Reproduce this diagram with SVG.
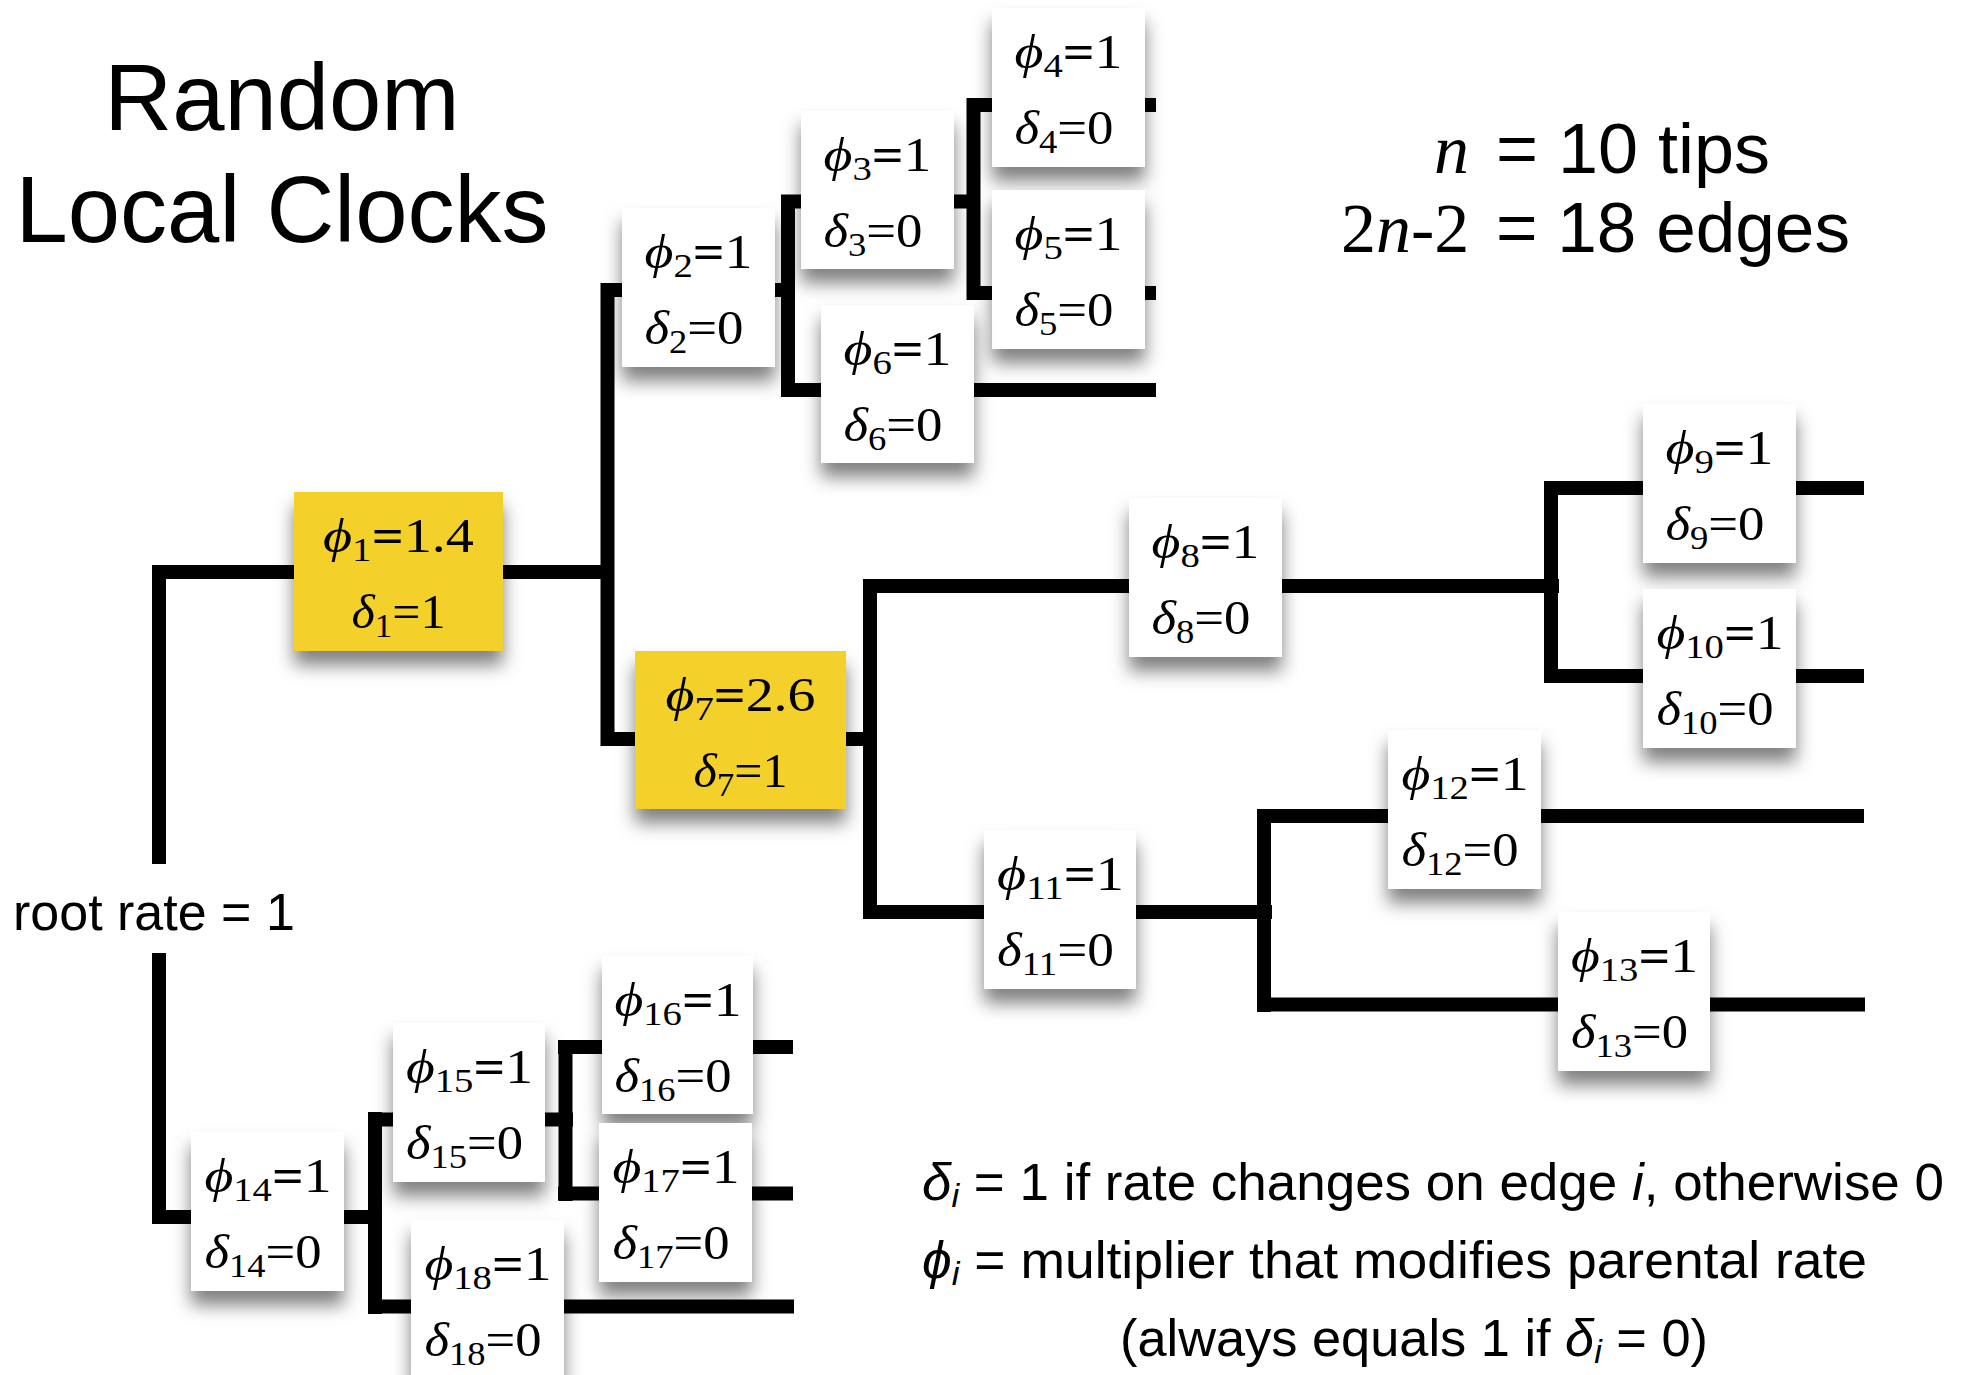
<svg xmlns="http://www.w3.org/2000/svg" width="1969" height="1375" viewBox="0 0 1969 1375">
  <style>
    .sans { font-family: "Liberation Sans", Arial, Helvetica, sans-serif; fill: #000; }
    .serif { font-family: "Liberation Serif", "DejaVu Serif", "Times New Roman", serif; fill: #000; }
    .lab { font-family: "Liberation Serif", "DejaVu Serif", "Times New Roman", serif; font-size: 49px; fill: #000; }
    .it { font-style: italic; }
    .sub { font-size: 34px; }
    .b { font-weight: bold; }
    .box { fill: #ffffff; filter: url(#shadow); }
    .hot { fill: #F4D12C; filter: url(#shadow); }
    .edge { stroke: #000; stroke-width: 14; fill: none; stroke-linecap: butt; }
  </style>
  <defs>
    <filter id="shadow" x="-30%" y="-30%" width="160%" height="180%">
      <feDropShadow dx="0" dy="14" stdDeviation="9" flood-color="#000" flood-opacity="0.5"/>
    </filter>
  </defs>

  <rect width="1969" height="1375" fill="#ffffff"/>

  <!-- title and summary text -->
  <g id="title">
    <text class="sans" x="282" y="130" font-size="94" text-anchor="middle">Random</text>
    <text class="sans" x="282" y="242" font-size="94" text-anchor="middle">Local Clocks</text>
  </g>
  <g id="counts">
    <text class="serif it" x="1434" y="173" font-size="70">n</text>
    <text class="sans" x="1496" y="173" font-size="70" textLength="274" lengthAdjust="spacingAndGlyphs">= 10 tips</text>
    <text class="serif" x="1341" y="252" font-size="70">2<tspan class="it">n</tspan>-2</text>
    <text class="sans" x="1496" y="252" font-size="70" textLength="354" lengthAdjust="spacingAndGlyphs">= 18 edges</text>
  </g>
  <text id="root-label" class="sans" x="13" y="930" font-size="52">root rate = 1</text>

  <!-- branches of the tree -->
  <g id="tree" class="edge">
    <line x1="159" y1="565" x2="159" y2="864"/>
    <line x1="159" y1="953" x2="159" y2="1224"/>
    <line x1="152" y1="572" x2="614" y2="572"/>
    <line x1="607.5" y1="283" x2="607.5" y2="746"/>
    <line x1="601" y1="290" x2="795" y2="290"/>
    <line x1="788" y1="195" x2="788" y2="397"/>
    <line x1="781" y1="201.5" x2="980" y2="201.5"/>
    <line x1="973.5" y1="98" x2="973.5" y2="300"/>
    <line x1="967" y1="105" x2="1156" y2="105"/>
    <line x1="967" y1="293" x2="1156" y2="293"/>
    <line x1="781" y1="390" x2="1156" y2="390"/>
    <line x1="601" y1="739" x2="877" y2="739"/>
    <line x1="870" y1="579" x2="870" y2="919"/>
    <line x1="863" y1="586" x2="1559" y2="586"/>
    <line x1="1551" y1="481" x2="1551" y2="683"/>
    <line x1="1544" y1="488" x2="1864" y2="488"/>
    <line x1="1544" y1="676" x2="1864" y2="676"/>
    <line x1="863" y1="912" x2="1272" y2="912"/>
    <line x1="1264" y1="809" x2="1264" y2="1012"/>
    <line x1="1257" y1="816" x2="1864" y2="816"/>
    <line x1="1257" y1="1004.5" x2="1865" y2="1004.5"/>
    <line x1="152" y1="1217" x2="382" y2="1217"/>
    <line x1="375" y1="1112" x2="375" y2="1314"/>
    <line x1="368" y1="1119.5" x2="573" y2="1119.5"/>
    <line x1="565.5" y1="1040" x2="565.5" y2="1201"/>
    <line x1="558" y1="1047" x2="793" y2="1047"/>
    <line x1="558" y1="1193.5" x2="793" y2="1193.5"/>
    <line x1="368" y1="1306.5" x2="794" y2="1306.5"/>
  </g>

  <!-- edge labels: rate multiplier and change indicator -->
  <g id="e1">
    <rect class="hot" x="294" y="492" width="209" height="159"/>
    <text class="lab" x="398.5" y="552" text-anchor="middle" textLength="151" lengthAdjust="spacingAndGlyphs"><tspan class="it">ϕ</tspan><tspan class="sub" dy="9">1</tspan><tspan class="b" dy="-9">=</tspan>1.4</text>
    <text class="lab" x="398.5" y="628" text-anchor="middle" textLength="94" lengthAdjust="spacingAndGlyphs"><tspan class="it">δ</tspan><tspan class="sub" dy="9">1</tspan><tspan dy="-9">=1</tspan></text>
  </g>
  <g id="e2">
    <rect class="box" x="622" y="208" width="153" height="159"/>
    <text class="lab" x="644.5" y="268" textLength="108" lengthAdjust="spacingAndGlyphs"><tspan class="it">ϕ</tspan><tspan class="sub" dy="9">2</tspan><tspan class="b" dy="-9">=</tspan>1</text>
    <text class="lab" x="644.5" y="344" textLength="99" lengthAdjust="spacingAndGlyphs"><tspan class="it">δ</tspan><tspan class="sub" dy="9">2</tspan><tspan dy="-9">=0</tspan></text>
  </g>
  <g id="e3">
    <rect class="box" x="801" y="111" width="153" height="158"/>
    <text class="lab" x="823.5" y="171" textLength="108" lengthAdjust="spacingAndGlyphs"><tspan class="it">ϕ</tspan><tspan class="sub" dy="9">3</tspan><tspan class="b" dy="-9">=</tspan>1</text>
    <text class="lab" x="823.5" y="247" textLength="99" lengthAdjust="spacingAndGlyphs"><tspan class="it">δ</tspan><tspan class="sub" dy="9">3</tspan><tspan dy="-9">=0</tspan></text>
  </g>
  <g id="e4">
    <rect class="box" x="992" y="8" width="153" height="159"/>
    <text class="lab" x="1014.5" y="68" textLength="108" lengthAdjust="spacingAndGlyphs"><tspan class="it">ϕ</tspan><tspan class="sub" dy="9">4</tspan><tspan class="b" dy="-9">=</tspan>1</text>
    <text class="lab" x="1014.5" y="144" textLength="99" lengthAdjust="spacingAndGlyphs"><tspan class="it">δ</tspan><tspan class="sub" dy="9">4</tspan><tspan dy="-9">=0</tspan></text>
  </g>
  <g id="e5">
    <rect class="box" x="992" y="190" width="153" height="159"/>
    <text class="lab" x="1014.5" y="250" textLength="108" lengthAdjust="spacingAndGlyphs"><tspan class="it">ϕ</tspan><tspan class="sub" dy="9">5</tspan><tspan class="b" dy="-9">=</tspan>1</text>
    <text class="lab" x="1014.5" y="326" textLength="99" lengthAdjust="spacingAndGlyphs"><tspan class="it">δ</tspan><tspan class="sub" dy="9">5</tspan><tspan dy="-9">=0</tspan></text>
  </g>
  <g id="e6">
    <rect class="box" x="821" y="305" width="153" height="158"/>
    <text class="lab" x="843.5" y="365" textLength="108" lengthAdjust="spacingAndGlyphs"><tspan class="it">ϕ</tspan><tspan class="sub" dy="9">6</tspan><tspan class="b" dy="-9">=</tspan>1</text>
    <text class="lab" x="843.5" y="441" textLength="99" lengthAdjust="spacingAndGlyphs"><tspan class="it">δ</tspan><tspan class="sub" dy="9">6</tspan><tspan dy="-9">=0</tspan></text>
  </g>
  <g id="e7">
    <rect class="hot" x="635" y="651" width="211" height="158"/>
    <text class="lab" x="740.5" y="711" text-anchor="middle" textLength="150" lengthAdjust="spacingAndGlyphs"><tspan class="it">ϕ</tspan><tspan class="sub" dy="9">7</tspan><tspan class="b" dy="-9">=</tspan>2.6</text>
    <text class="lab" x="740.5" y="787" text-anchor="middle" textLength="94" lengthAdjust="spacingAndGlyphs"><tspan class="it">δ</tspan><tspan class="sub" dy="9">7</tspan><tspan dy="-9">=1</tspan></text>
  </g>
  <g id="e8">
    <rect class="box" x="1129" y="498" width="153" height="159"/>
    <text class="lab" x="1151.5" y="558" textLength="108" lengthAdjust="spacingAndGlyphs"><tspan class="it">ϕ</tspan><tspan class="sub" dy="9">8</tspan><tspan class="b" dy="-9">=</tspan>1</text>
    <text class="lab" x="1151.5" y="634" textLength="99" lengthAdjust="spacingAndGlyphs"><tspan class="it">δ</tspan><tspan class="sub" dy="9">8</tspan><tspan dy="-9">=0</tspan></text>
  </g>
  <g id="e9">
    <rect class="box" x="1643" y="404" width="153" height="159"/>
    <text class="lab" x="1665.5" y="464" textLength="108" lengthAdjust="spacingAndGlyphs"><tspan class="it">ϕ</tspan><tspan class="sub" dy="9">9</tspan><tspan class="b" dy="-9">=</tspan>1</text>
    <text class="lab" x="1665.5" y="540" textLength="99" lengthAdjust="spacingAndGlyphs"><tspan class="it">δ</tspan><tspan class="sub" dy="9">9</tspan><tspan dy="-9">=0</tspan></text>
  </g>
  <g id="e10">
    <rect class="box" x="1643" y="589" width="153" height="159"/>
    <text class="lab" x="1656.5" y="649" textLength="127" lengthAdjust="spacingAndGlyphs"><tspan class="it">ϕ</tspan><tspan class="sub" dy="9">10</tspan><tspan class="b" dy="-9">=</tspan>1</text>
    <text class="lab" x="1656.5" y="725" textLength="117" lengthAdjust="spacingAndGlyphs"><tspan class="it">δ</tspan><tspan class="sub" dy="9">10</tspan><tspan dy="-9">=0</tspan></text>
  </g>
  <g id="e11">
    <rect class="box" x="984" y="830" width="152" height="159"/>
    <text class="lab" x="997" y="890" textLength="127" lengthAdjust="spacingAndGlyphs"><tspan class="it">ϕ</tspan><tspan class="sub" dy="9">11</tspan><tspan class="b" dy="-9">=</tspan>1</text>
    <text class="lab" x="997" y="966" textLength="117" lengthAdjust="spacingAndGlyphs"><tspan class="it">δ</tspan><tspan class="sub" dy="9">11</tspan><tspan dy="-9">=0</tspan></text>
  </g>
  <g id="e12">
    <rect class="box" x="1388" y="730" width="153" height="159"/>
    <text class="lab" x="1401.5" y="790" textLength="127" lengthAdjust="spacingAndGlyphs"><tspan class="it">ϕ</tspan><tspan class="sub" dy="9">12</tspan><tspan class="b" dy="-9">=</tspan>1</text>
    <text class="lab" x="1401.5" y="866" textLength="117" lengthAdjust="spacingAndGlyphs"><tspan class="it">δ</tspan><tspan class="sub" dy="9">12</tspan><tspan dy="-9">=0</tspan></text>
  </g>
  <g id="e13">
    <rect class="box" x="1558" y="912" width="152" height="159"/>
    <text class="lab" x="1571" y="972" textLength="127" lengthAdjust="spacingAndGlyphs"><tspan class="it">ϕ</tspan><tspan class="sub" dy="9">13</tspan><tspan class="b" dy="-9">=</tspan>1</text>
    <text class="lab" x="1571" y="1048" textLength="117" lengthAdjust="spacingAndGlyphs"><tspan class="it">δ</tspan><tspan class="sub" dy="9">13</tspan><tspan dy="-9">=0</tspan></text>
  </g>
  <g id="e14">
    <rect class="box" x="191" y="1132" width="153" height="159"/>
    <text class="lab" x="204.5" y="1192" textLength="127" lengthAdjust="spacingAndGlyphs"><tspan class="it">ϕ</tspan><tspan class="sub" dy="9">14</tspan><tspan class="b" dy="-9">=</tspan>1</text>
    <text class="lab" x="204.5" y="1268" textLength="117" lengthAdjust="spacingAndGlyphs"><tspan class="it">δ</tspan><tspan class="sub" dy="9">14</tspan><tspan dy="-9">=0</tspan></text>
  </g>
  <g id="e15">
    <rect class="box" x="393" y="1023" width="152" height="159"/>
    <text class="lab" x="406" y="1083" textLength="127" lengthAdjust="spacingAndGlyphs"><tspan class="it">ϕ</tspan><tspan class="sub" dy="9">15</tspan><tspan class="b" dy="-9">=</tspan>1</text>
    <text class="lab" x="406" y="1159" textLength="117" lengthAdjust="spacingAndGlyphs"><tspan class="it">δ</tspan><tspan class="sub" dy="9">15</tspan><tspan dy="-9">=0</tspan></text>
  </g>
  <g id="e16">
    <rect class="box" x="602" y="956" width="151" height="158"/>
    <text class="lab" x="614.5" y="1016" textLength="127" lengthAdjust="spacingAndGlyphs"><tspan class="it">ϕ</tspan><tspan class="sub" dy="9">16</tspan><tspan class="b" dy="-9">=</tspan>1</text>
    <text class="lab" x="614.5" y="1092" textLength="117" lengthAdjust="spacingAndGlyphs"><tspan class="it">δ</tspan><tspan class="sub" dy="9">16</tspan><tspan dy="-9">=0</tspan></text>
  </g>
  <g id="e17">
    <rect class="box" x="599" y="1123" width="153" height="159"/>
    <text class="lab" x="612.5" y="1183" textLength="127" lengthAdjust="spacingAndGlyphs"><tspan class="it">ϕ</tspan><tspan class="sub" dy="9">17</tspan><tspan class="b" dy="-9">=</tspan>1</text>
    <text class="lab" x="612.5" y="1259" textLength="117" lengthAdjust="spacingAndGlyphs"><tspan class="it">δ</tspan><tspan class="sub" dy="9">17</tspan><tspan dy="-9">=0</tspan></text>
  </g>
  <g id="e18">
    <rect class="box" x="411" y="1220" width="153" height="159"/>
    <text class="lab" x="424.5" y="1280" textLength="127" lengthAdjust="spacingAndGlyphs"><tspan class="it">ϕ</tspan><tspan class="sub" dy="9">18</tspan><tspan class="b" dy="-9">=</tspan>1</text>
    <text class="lab" x="424.5" y="1356" textLength="117" lengthAdjust="spacingAndGlyphs"><tspan class="it">δ</tspan><tspan class="sub" dy="9">18</tspan><tspan dy="-9">=0</tspan></text>
  </g>

  <!-- legend -->
  <g id="legend" class="sans" font-size="52">
    <text x="922" y="1200" textLength="1022" lengthAdjust="spacingAndGlyphs"><tspan class="it">δ</tspan><tspan class="it" font-size="34" dy="7">i</tspan><tspan dy="-7"> = 1 if rate changes on edge </tspan><tspan class="it">i</tspan>, otherwise 0</text>
    <text x="922" y="1278" textLength="945" lengthAdjust="spacingAndGlyphs"><tspan class="it">ϕ</tspan><tspan class="it" font-size="34" dy="7">i</tspan><tspan dy="-7"> = multiplier that modifies parental rate</tspan></text>
    <text x="1120" y="1356" textLength="588" lengthAdjust="spacingAndGlyphs">(always equals 1 if <tspan class="it">δ</tspan><tspan class="it" font-size="34" dy="7">i</tspan><tspan dy="-7"> = 0)</tspan></text>
  </g>
</svg>
